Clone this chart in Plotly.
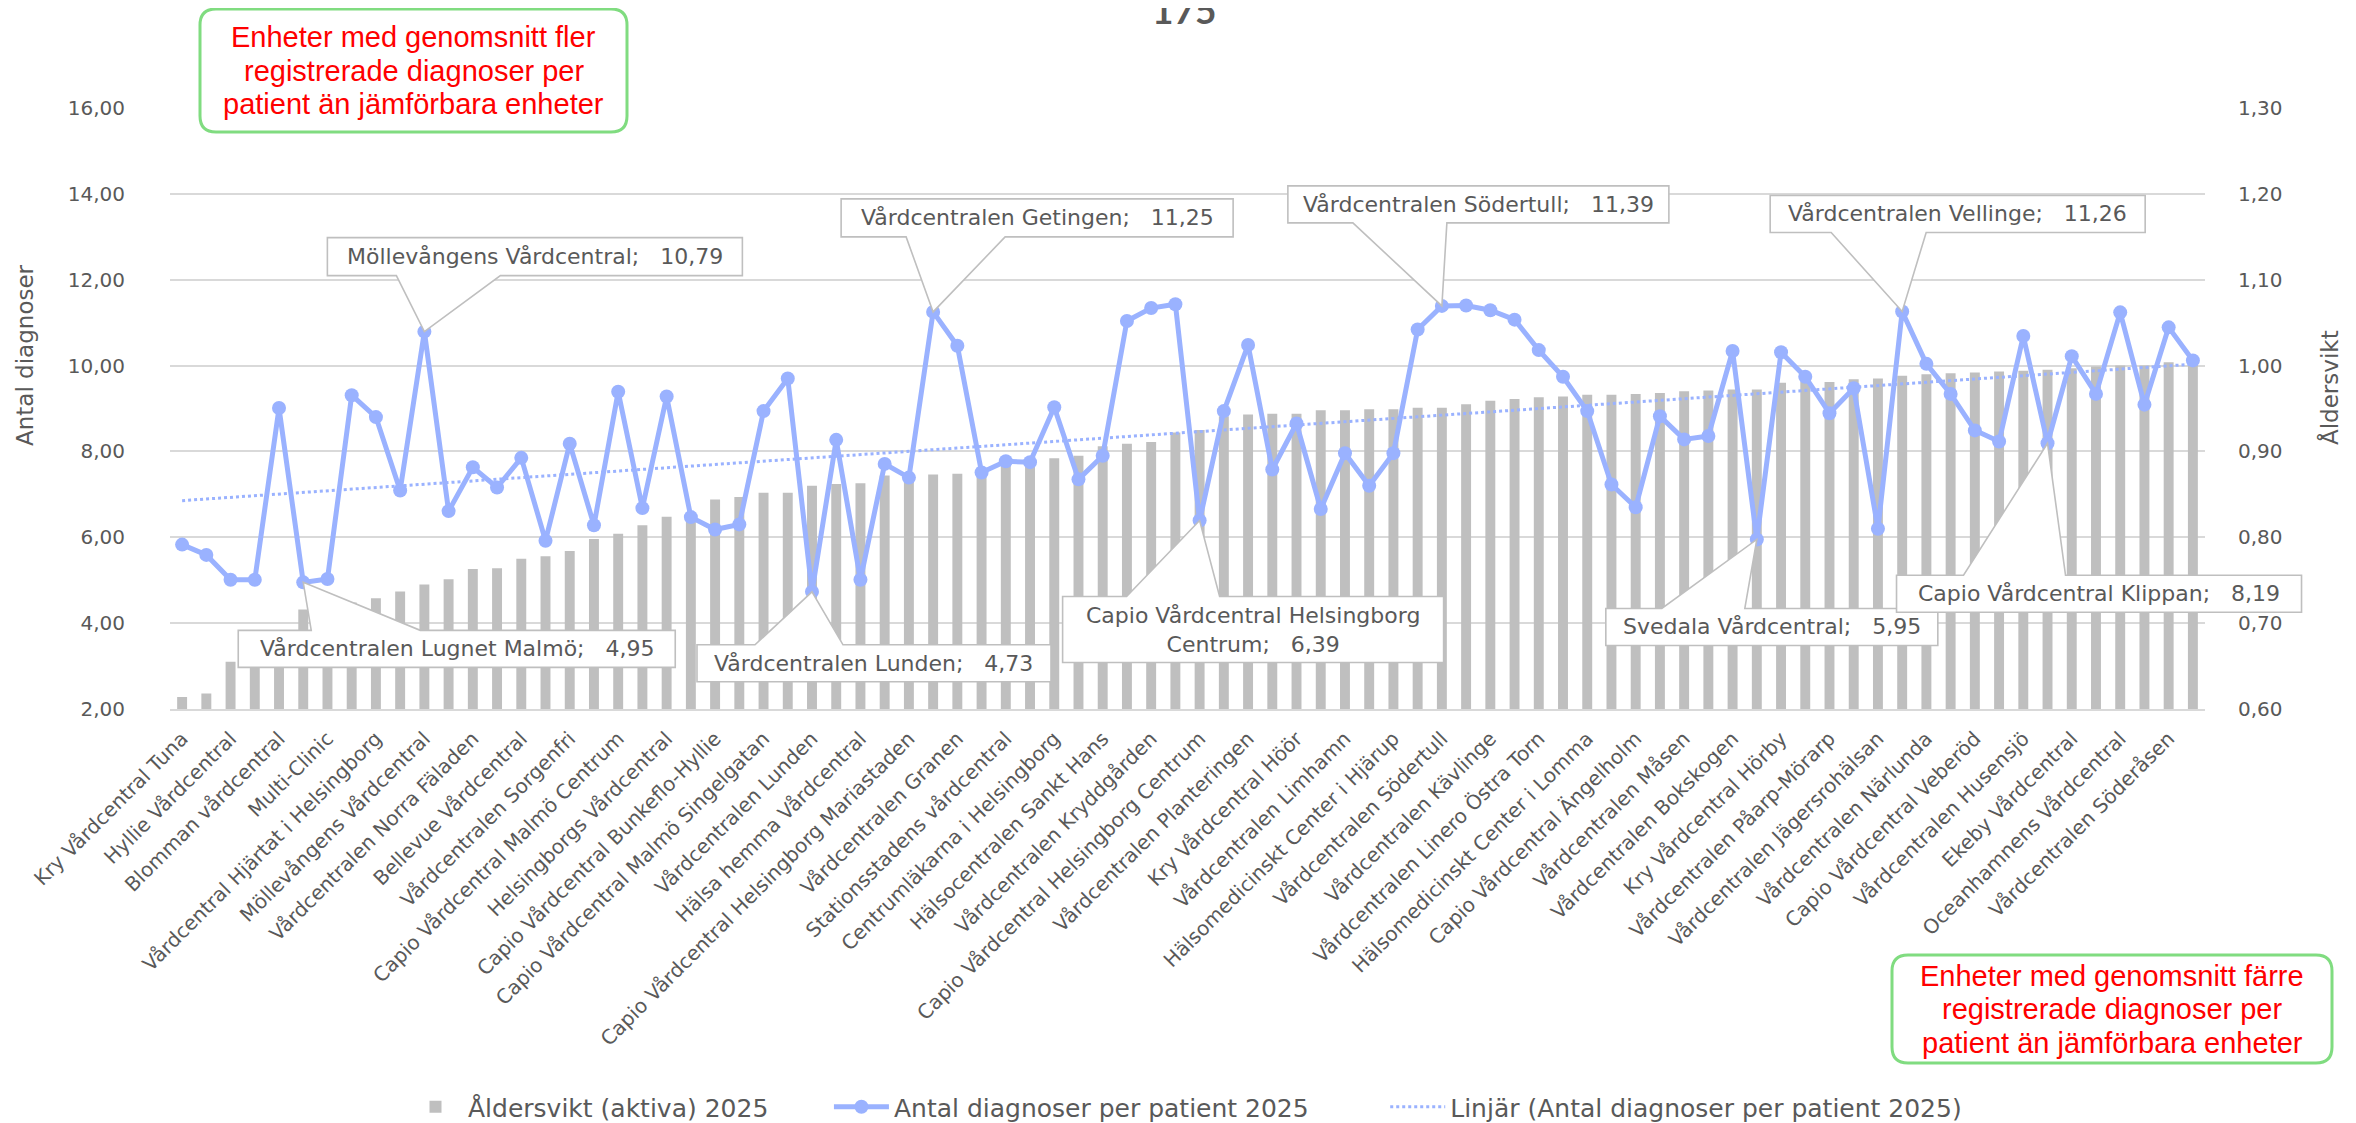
import numpy as np
import plotly.graph_objects as go

# ---------------- data ----------------
title_text = "175"

tick_labels = [
    "Kry Vårdcentral Tuna", "Hyllie Vårdcentral", "Blomman vårdcentral", "Multi-Clinic",
    "Vårdcentral Hjärtat i Helsingborg", "Möllevångens Vårdcentral", "Vårdcentralen Norra Fäladen",
    "Bellevue Vårdcentral", "Vårdcentralen Sorgenfri", "Capio Vårdcentral Malmö Centrum",
    "Helsingborgs Vårdcentral", "Capio Vårdcentral Bunkeflo-Hyllie", "Capio Vårdcentral Malmö Singelgatan",
    "Vårdcentralen Lunden", "Hälsa hemma Vårdcentral", "Capio Vårdcentral Helsingborg Mariastaden",
    "Vårdcentralen Granen", "Stationsstadens vårdcentral", "Centrumläkarna i Helsingborg",
    "Hälsocentralen Sankt Hans", "Vårdcentralen Kryddgården", "Capio Vårdcentral Helsingborg Centrum",
    "Vårdcentralen Planteringen", "Kry Vårdcentral Höör", "Vårdcentralen Limhamn",
    "Hälsomedicinskt Center i Hjärup", "Vårdcentralen Södertull", "Vårdcentralen Kävlinge",
    "Vårdcentralen Linero Östra Torn", "Hälsomedicinskt Center i Lomma", "Capio Vårdcentral Ängelholm",
    "Vårdcentralen Måsen", "Vårdcentralen Bokskogen", "Kry Vårdcentral Hörby",
    "Vårdcentralen Påarp-Mörarp", "Vårdcentralen Jägersrohälsan", "Vårdcentralen Närlunda",
    "Capio Vårdcentral Veberöd", "Vårdcentralen Husensjö", "Ekeby Vårdcentral",
    "Oceanhamnens Vårdcentral", "Vårdcentralen Söderåsen",
]

diag = [
    5.83, 5.59, 5.01, 5.01, 9.01, 4.95, 5.03, 9.31, 8.80, 7.09,
    10.79, 6.61, 7.63, 7.16, 7.85, 5.92, 8.18, 6.28, 9.39, 6.68,
    9.28, 6.47, 6.18, 6.30, 8.94, 9.70, 4.73, 8.27, 5.01, 7.71,
    7.39, 11.25, 10.46, 7.51, 7.77, 7.75, 9.03, 7.35, 7.90, 11.04,
    11.34, 11.43, 6.39, 8.94, 10.48, 7.58, 8.65, 6.66, 7.96, 7.20,
    7.96, 10.84, 11.39, 11.40, 11.29, 11.07, 10.36, 9.74, 8.94, 7.23,
    6.70, 8.82, 8.28, 8.36, 10.34, 5.95, 10.31, 9.74, 8.89, 9.47,
    6.20, 11.26, 10.04, 9.34, 8.49, 8.23, 10.69, 8.19, 10.22, 9.34,
    11.24, 9.09, 10.89, 10.12,
]

vikt = [
    0.614, 0.618, 0.655, 0.665, 0.675, 0.716, 0.720, 0.724, 0.729, 0.737,
    0.745, 0.751, 0.763, 0.764, 0.775, 0.778, 0.784, 0.798, 0.804, 0.814,
    0.824, 0.826, 0.844, 0.847, 0.852, 0.852, 0.860, 0.862, 0.863, 0.872,
    0.873, 0.873, 0.874, 0.878, 0.884, 0.886, 0.892, 0.895, 0.906, 0.909,
    0.911, 0.922, 0.925, 0.941, 0.943, 0.944, 0.944, 0.948, 0.948, 0.949,
    0.949, 0.951, 0.951, 0.955, 0.959, 0.961, 0.963, 0.964, 0.966, 0.966,
    0.967, 0.968, 0.970, 0.971, 0.972, 0.972, 0.980, 0.981, 0.981, 0.984,
    0.985, 0.988, 0.990, 0.991, 0.992, 0.993, 0.994, 0.995, 0.997, 0.999,
    1.000, 1.000, 1.004, 1.005,
]

callout_units = [
    (10, "Möllevångens Vårdcentral"),
    (5, "Vårdcentralen Lugnet Malmö"),
    (26, "Vårdcentralen Lunden"),
    (31, "Vårdcentralen Getingen"),
    (42, "Capio Vårdcentral Helsingborg<br>Centrum"),
    (52, "Vårdcentralen Södertull"),
    (65, "Svedala Vårdcentral"),
    (71, "Vårdcentralen Vellinge"),
    (77, "Capio Vårdcentral Klippan"),
]

name_bar = "Åldersvikt (aktiva) 2025"
name_line = "Antal diagnoser per patient 2025"
name_trend = "Linjär (Antal diagnoser per patient 2025)"

note_top = ["Enheter med genomsnitt fler", "registrerade diagnoser per",
            "patient än jämförbara enheter"]
note_bottom = ["Enheter med genomsnitt färre", "registrerade diagnoser per",
               "patient än jämförbara enheter"]

# ---------------- style ----------------
# page body has an 8px margin, so the figure is 8px smaller and shifted
W, H = 2348, 1115
ML, MT = 162, 100
PW, PH = 2035, 601
MR, MB = W - ML - PW, H - MT - PH
REF_L, REF_B = 170, 709          # plot-area left / bottom in screenshot pixels
GRAY_TXT = "#595959"
BAR = "#bfbfbf"
BLUE = "#9ab2ff"
GRID = "#d9d9d9"
FONT = "'DejaVu Sans', sans-serif"
TITLE_FONT = "Lato, sans-serif"
NOTE_FONT = "'Liberation Sans', Arial, sans-serif"
NBSP = "\u00a0"


def px_x(px):
    return (px - REF_L) / PW


def px_y(py):
    return (REF_B - py) / PH


# callout geometry in pixels relative to the data point (x right, y up):
# (box_x0, box_x1, box_y_near, box_y_far, base_x0, base_x1)
callout_geom = {
    10: (-97, 318, 56, 94, -28, 76),
    5: (-65, 372, -48, -85, 8, 117),
    26: (-115, 239, -53, -90, -57, 31),
    31: (-92, 300, 75, 113, -27, 72),
    42: (-137, 244, -76, -142, -73, 20),
    52: (-154, 227, 83, 120, -89, 5),
    65: (-151, 181, -69, -106, -95, -12),
    71: (-132, 243, 79, 116, -71, 24),
    77: (-151, 254, -132, -169, -84, 18),
}

x = np.arange(len(diag))
x_range = [-0.5, len(diag) - 0.5]
y2_range = [2, 16]
slope, intercept = np.polyfit(x, np.array(diag), 1)
trend = intercept + slope * x

fig = go.Figure()
fig.add_trace(go.Bar(x=x, y=vikt, yaxis="y", marker=dict(color=BAR, line=dict(width=0)),
                     name=name_bar + NBSP * 7))
fig.add_trace(go.Scatter(x=x, y=diag, yaxis="y2", mode="lines+markers",
                         line=dict(color=BLUE, width=5), marker=dict(color=BLUE, size=14),
                         name=name_line + NBSP * 9))
fig.add_trace(go.Scatter(x=x, y=trend, yaxis="y2", mode="lines",
                         line=dict(color=BLUE, width=3, dash="dot"), name=name_trend))

shapes = []
annotations = []


def fmt(v):
    return f"{v:.2f}".replace(".", ",")


for idx, label in callout_units:
    bx0, bx1, yn, yf, w0, w1 = callout_geom[idx]
    path = (f"M{bx0},{yn} L{w0},{yn} L0,0 L{w1},{yn} L{bx1},{yn} "
            f"L{bx1},{yf} L{bx0},{yf} Z")
    # anchor in paper fractions (derived from axis ranges) so shapes are not clipped
    xa = (idx - x_range[0]) / (x_range[1] - x_range[0])
    ya = (diag[idx] - y2_range[0]) / (y2_range[1] - y2_range[0])
    shapes.append(dict(type="path", xref="paper", yref="paper", xsizemode="pixel",
                       ysizemode="pixel", xanchor=xa, yanchor=ya, path=path,
                       fillcolor="white", line=dict(color=BAR, width=1.6), layer="above"))
    annotations.append(dict(x=int(idx), y=diag[idx], xref="x", yref="y2", showarrow=False,
                            xshift=(bx0 + bx1) / 2, yshift=(yn + yf) / 2,
                            text=f"{label};{NBSP}{NBSP} {fmt(diag[idx])}",
                            font=dict(family=FONT, size=22, color=GRAY_TXT), align="center"))


def rounded(x0, x1, y0, y1, r):
    return (f"M{x0 + r},{y0} L{x1 - r},{y0} Q{x1},{y0} {x1},{y0 + r} L{x1},{y1 - r} "
            f"Q{x1},{y1} {x1 - r},{y1} L{x0 + r},{y1} Q{x0},{y1} {x0},{y1 - r} "
            f"L{x0},{y0 + r} Q{x0},{y0} {x0 + r},{y0} Z")


# green note boxes, given in screenshot pixels (left, right, top, bottom)
for (l, r, t, b, lines) in [(200, 627, 9, 132, note_top), (1892, 2332, 955, 1063, note_bottom)]:
    shapes.append(dict(type="path", xref="paper", yref="paper", xsizemode="pixel",
                       ysizemode="pixel", xanchor=0, yanchor=0,
                       path=rounded(l - REF_L, r - REF_L, REF_B - b, REF_B - t, 16),
                       fillcolor="rgba(0,0,0,0)",
                       line=dict(color="#80dc80", width=3), layer="above"))
    cy = (t + b) / 2
    for k, line in enumerate(lines):
        annotations.append(dict(x=px_x((l + r) / 2), y=px_y(cy + (k - 1) * 33.5), xref="paper",
                                yref="paper", showarrow=False, text=line,
                                font=dict(family=NOTE_FONT, size=29, color="#ff0000"),
                                xanchor="center", yanchor="middle"))

# title and axis titles
annotations.append(dict(x=px_x(1184), y=px_y(10), xref="paper", yref="paper",
                        showarrow=False, text=f"<b>{title_text}</b>",
                        font=dict(family=TITLE_FONT, size=37, color=GRAY_TXT),
                        xanchor="center", yanchor="middle"))
annotations.append(dict(x=px_x(25), y=px_y(355), xref="paper", yref="paper",
                        showarrow=False, text="Antal diagnoser", textangle=-90,
                        font=dict(family=FONT, size=23, color=GRAY_TXT),
                        xanchor="center", yanchor="middle"))
annotations.append(dict(x=px_x(2329), y=px_y(388), xref="paper", yref="paper",
                        showarrow=False, text="Åldersvikt", textangle=-90,
                        font=dict(family=FONT, size=23, color=GRAY_TXT),
                        xanchor="center", yanchor="middle"))

fig.update_layout(
    width=W, height=H,
    margin=dict(l=ML, r=MR, t=MT, b=MB, autoexpand=False),
    paper_bgcolor="white", plot_bgcolor="white",
    separators=", ",
    bargap=0.59,
    font=dict(family=FONT, color=GRAY_TXT),
    showlegend=True,
    legend=dict(orientation="h", x=px_x(1185), xanchor="center",
                y=px_y(1107), yanchor="middle",
                font=dict(family=FONT, size=25, color=GRAY_TXT), itemwidth=55,
                bgcolor="rgba(0,0,0,0)", borderwidth=0, tracegroupgap=0),
    xaxis=dict(range=x_range, tickvals=list(x[::2]), ticktext=tick_labels,
               tickangle=-45, tickfont=dict(family=FONT, size=20, color=GRAY_TXT),
               showgrid=False, zeroline=False, showline=True, linecolor=GRID, linewidth=2,
               ticks="", ticklabelstandoff=8),
    yaxis=dict(side="right", range=[0.6, 1.3], dtick=0.1, tick0=0.6, tickformat=".2f",
               showgrid=True, gridcolor=GRID, gridwidth=1.5, zeroline=False,
               tickfont=dict(family=FONT, size=20, color=GRAY_TXT), ticklabelstandoff=32),
    yaxis2=dict(overlaying="y", side="left", range=y2_range, dtick=2, tick0=2,
                tickformat=".2f", showgrid=False, zeroline=False,
                tickfont=dict(family=FONT, size=20, color=GRAY_TXT), ticklabelstandoff=44),
    shapes=shapes,
    annotations=annotations,
)

fig.write_html("out.html")
